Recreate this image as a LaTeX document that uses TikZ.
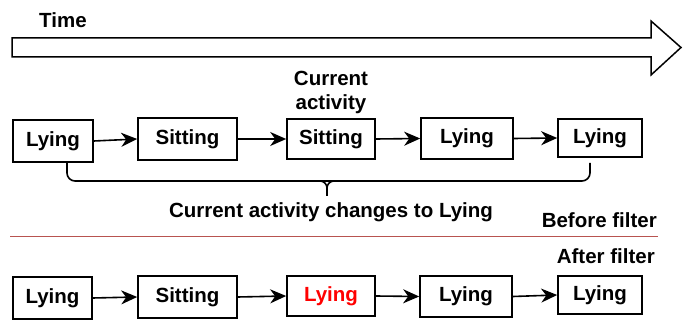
\documentclass[tikz,border=0pt]{standalone}
\usepackage{fontspec}
\setmainfont{Liberation Sans}
\usetikzlibrary{arrows.meta}
\definecolor{divider}{HTML}{B85450}
\begin{document}
\begin{tikzpicture}[x=1pt,y=-1pt,
  lbl/.style={font=\bfseries\fontsize{20.5}{24}\selectfont, inner sep=0pt},
  statebox/.style={draw, line width=1.6pt, lbl, minimum height=#1},
  flow/.style={line width=1.6pt, -{Stealth[length=16pt,width=14pt,inset=5pt]}}]
\useasboundingbox (0,0) rectangle (683,320);

% time axis
\draw[line width=1.5pt, line join=miter]
  (12,38) -- (651,38) -- (651,21) -- (681,47.5) -- (651,75) -- (651,57) -- (12,57) -- cycle;
\node[lbl, anchor=base west] (time) at (39,28) {Time};

% sequence before filtering
\node[statebox=42pt, minimum width=80pt] (b1) at (53,141) {Lying};
\node[statebox=42pt, minimum width=99pt] (b2) at (187.5,139) {Sitting};
\node[statebox=40pt, minimum width=88pt] (b3) at (331,139) {Sitting};
\node[statebox=41pt, minimum width=92pt] (b4) at (467,138.5) {Lying};
\node[statebox=38pt, minimum width=84pt] (b5) at (600,138) {Lying};
\node[lbl, align=center, anchor=south] (cur) at (331,114) {Current\\activity};

\draw[flow] (b1.east) -- (b2.west);
\draw[flow] (b2.east) -- (b3.west);
\draw[flow] (b3.east) -- (b4.west);
\draw[flow] (b4.east) -- (b5.west);

% curly bracket under the window
\coordinate (brL) at (67,163);
\coordinate (brR) at (590,163);
\coordinate (brM) at (327,196);
\draw[line width=1.6pt, rounded corners=8pt]
  (brL) -- (67,181) -- (327,181) -- (590,181) -- (brR);
\draw[line width=1.6pt]
  (320,181) arc[start angle=-90, end angle=0, radius=7] -- (brM);
\draw[line width=1.6pt]
  (334,181) arc[start angle=-90, end angle=-180, radius=7];
\node[lbl, anchor=base] (chg) at (331,218) {Current activity changes to Lying};

% before / after divider
\node[lbl, anchor=base east] (before) at (657,228) {Before filter};
\coordinate (divL) at (10,236.5);
\coordinate (divR) at (658,236.5);
\draw[divider, line width=1.6pt] (divL) -- (divR);
\node[lbl, anchor=base east] (after) at (655,264) {After filter};

% sequence after filtering
\node[statebox=42pt, minimum width=79pt] (c1) at (52.5,298) {Lying};
\node[statebox=42pt, minimum width=99pt] (c2) at (187.5,297) {Sitting};
\node[statebox=40pt, minimum width=88pt, text=red] (c3) at (331,296) {Lying};
\node[statebox=41pt, minimum width=92pt] (c4) at (466,296.5) {Lying};
\node[statebox=38pt, minimum width=84pt] (c5) at (600,295) {Lying};

\draw[flow] (c1.east) -- (c2.west);
\draw[flow] (c2.east) -- (c3.west);
\draw[flow] (c3.east) -- (c4.west);
\draw[flow] (c4.east) -- (c5.west);
\end{tikzpicture}
\end{document}
